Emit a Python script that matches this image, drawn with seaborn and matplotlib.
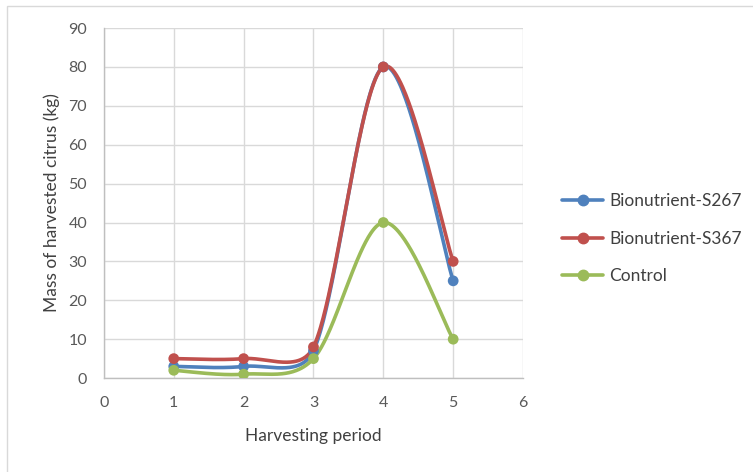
import numpy as np
import pandas as pd
import matplotlib
matplotlib.use("Agg")
import matplotlib.pyplot as plt
import seaborn as sns

periods = [1, 2, 3, 4, 5]
s267 = [3, 3, 7, 80, 25]
s367 = [5, 5, 8, 80, 30]
control = [2, 1, 5, 40, 10]
series_names = ["Bionutrient-S267", "Bionutrient-S367", "Control"]
colors = ["#4F81BD", "#C0504D", "#9BBB59"]
x_ticks = [0, 1, 2, 3, 4, 5, 6]
y_ticks = [0, 10, 20, 30, 40, 50, 60, 70, 80, 90]

X_MAX, Y_MAX = 6, 90
AX_RECT = [0.138, 0.199, 0.5566, 0.7416]
FIG_W, FIG_H = 7.53, 4.72


def smooth_curve(xs, ys, n=80, cap=0.42):
    """Catmull-Rom style Bezier smoothing; handles are capped relative to
    the on-screen length of their segment to avoid large overshoots."""
    sx = FIG_W * AX_RECT[2] / X_MAX
    sy = FIG_H * AX_RECT[3] / Y_MAX
    pts = np.column_stack([np.asarray(xs, float) * sx, np.asarray(ys, float) * sy])
    m = len(pts)
    ext = np.vstack([pts[0], pts, pts[-1]])
    out = []
    t = np.linspace(0, 1, n)[:, None]
    for i in range(m - 1):
        p0, p1, p2, p3 = ext[i], ext[i + 1], ext[i + 2], ext[i + 3]
        L = np.linalg.norm(p2 - p1)
        h1 = (p2 - p0) / 6.0
        h2 = (p3 - p1) / 6.0
        for h in (h1, h2):
            n_h = np.linalg.norm(h)
            if n_h > cap * L:
                h *= cap * L / n_h
        c1 = p1 + h1
        c2 = p2 - h2
        seg = ((1 - t) ** 3) * p1 + 3 * ((1 - t) ** 2) * t * c1 + 3 * (1 - t) * t ** 2 * c2 + t ** 3 * p2
        out.append(seg if i == 0 else seg[1:])
    arr = np.vstack(out)
    return arr[:, 0] / sx, arr[:, 1] / sy


sns.set_theme(style="white")
plt.rcParams["font.family"] = ["Lato", "DejaVu Sans"]

fig = plt.figure(figsize=(FIG_W, FIG_H), dpi=100)
ax = fig.add_axes(AX_RECT)

# light frame around the chart area
fig.patches.append(plt.Rectangle((0.0093, -0.05), 1.2, 1.037, transform=fig.transFigure,
                                 fill=False, edgecolor="#D9D9D9", linewidth=1.0))

frames = []
for name, vals in zip(series_names, [s267, s367, control]):
    cx, cy = smooth_curve(periods, vals)
    frames.append(pd.DataFrame({"x": cx, "y": cy, "series": name}))
curves = pd.concat(frames, ignore_index=True)
points = pd.DataFrame({
    "x": periods * 3,
    "y": s267 + s367 + control,
    "series": [n for n in series_names for _ in periods],
})

palette = dict(zip(series_names, colors))
sns.lineplot(data=curves, x="x", y="y", hue="series", palette=palette, sort=False,
             estimator=None, linewidth=2.6, ax=ax, legend=False)
sns.scatterplot(data=points, x="x", y="y", hue="series", palette=palette, s=60,
                edgecolor="none", ax=ax, legend=False, zorder=5)

ax.set_xlim(0, X_MAX)
ax.set_ylim(0, Y_MAX)
ax.set_xticks(x_ticks)
ax.set_yticks(y_ticks)
ax.grid(True, color="#D9D9D9", linewidth=1.0)
ax.set_axisbelow(True)
for side in ["top", "right"]:
    ax.spines[side].set_visible(False)
for side in ["left", "bottom"]:
    ax.spines[side].set_color("#BFBFBF")
    ax.spines[side].set_linewidth(1.0)
ax.tick_params(axis="both", labelsize=11.5, colors="#595959", length=0)
ax.tick_params(axis="y", pad=12)
ax.tick_params(axis="x", pad=13)
ax.set_xlabel("Harvesting period", fontsize=12.5, color="#404040", labelpad=13)
ax.set_ylabel("Mass of harvested citrus (kg)", fontsize=12.5, color="#404040", labelpad=6)

handles = [plt.Line2D([0], [0], color=c, linewidth=2.6, marker="o", markersize=7.5)
           for c in colors]
fig.legend(handles, series_names, loc="center left", bbox_to_anchor=(0.726, 0.494),
           frameon=False, fontsize=12.5, handlelength=2.36, handletextpad=0.35,
           labelspacing=1.24, labelcolor="#404040")

fig.savefig("out.png", dpi=100)
